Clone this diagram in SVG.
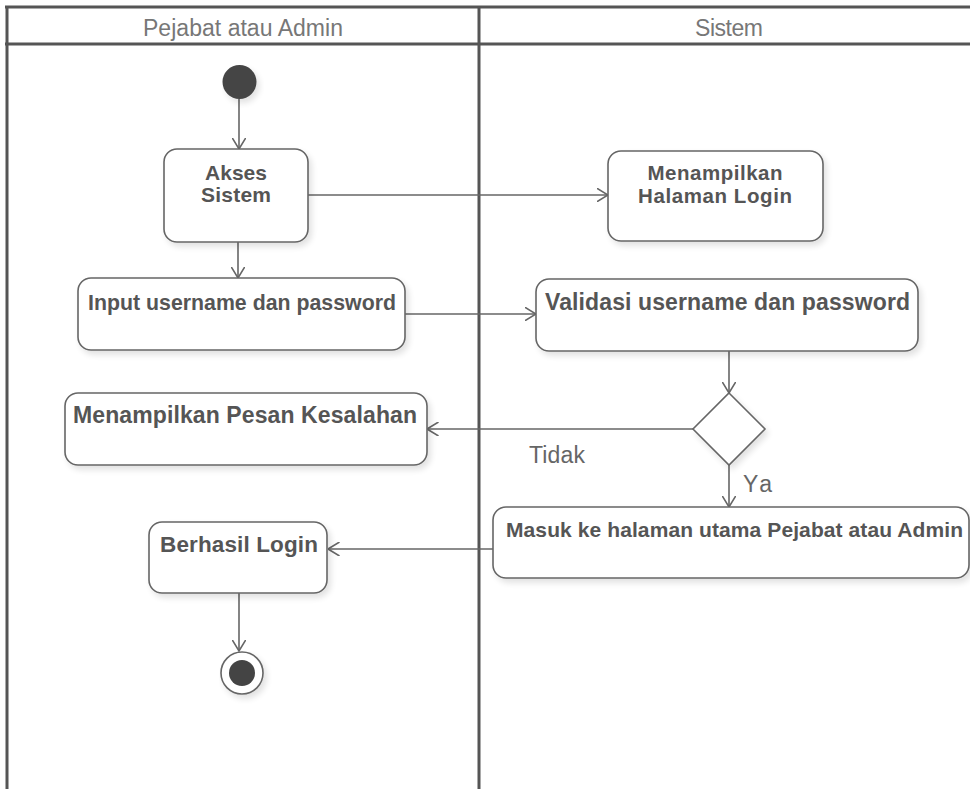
<svg xmlns="http://www.w3.org/2000/svg" width="970" height="789" viewBox="0 0 970 789">
<style>
.lane{stroke:#555;stroke-width:3;fill:none}
.hdr{font-family:"Liberation Sans",Arial,sans-serif;font-size:23px;fill:#777;text-anchor:middle}
.box{fill:#fff;stroke:#666;stroke-width:1.6;filter:url(#sh)}
.lbl{font-family:"Liberation Sans",Arial,sans-serif;font-size:21px;font-weight:bold;fill:#555;text-anchor:middle}
.guard{font-family:"Liberation Sans",Arial,sans-serif;font-size:23px;fill:#666}
.con{stroke:#666;stroke-width:1.6;fill:none;marker-end:url(#arr)}
</style>
<defs>
<marker id="arr" viewBox="0 0 12 14" refX="11.5" refY="7" markerWidth="12" markerHeight="14" markerUnits="userSpaceOnUse" orient="auto">
<path d="M0,0 L11.5,7 L0,14" fill="none" stroke="#666" stroke-width="1.6"/>
</marker>
<filter id="sh" x="-10%" y="-10%" width="130%" height="140%">
<feGaussianBlur in="SourceAlpha" stdDeviation="3"/>
<feOffset dx="3" dy="4" result="b"/>
<feComponentTransfer><feFuncA type="linear" slope="0.12"/></feComponentTransfer>
<feMerge><feMergeNode/><feMergeNode in="SourceGraphic"/></feMerge>
</filter>
</defs>
<rect width="970" height="789" fill="#fff"/>
<g id="swimlanes">
<line class="lane" x1="5" y1="7" x2="970" y2="7"/>
<line class="lane" x1="5" y1="44" x2="970" y2="44"/>
<line class="lane" x1="7" y1="6" x2="7" y2="789"/>
<line class="lane" x1="479" y1="6" x2="479" y2="789"/>
<text class="hdr" x="243" y="36" textLength="200">Pejabat atau Admin</text>
<text class="hdr" x="729" y="36" textLength="68">Sistem</text>
</g>
<g id="connectors">
<line class="con" x1="239" y1="99" x2="239" y2="149"/>
<line class="con" x1="308" y1="195" x2="608" y2="195"/>
<line class="con" x1="238" y1="242" x2="238" y2="278"/>
<line class="con" x1="405" y1="314" x2="536" y2="314"/>
<line class="con" x1="729" y1="351" x2="729" y2="393"/>
<line class="con" x1="693" y1="429" x2="427" y2="429"/>
<line class="con" x1="729" y1="465" x2="729" y2="507"/>
<line class="con" x1="493" y1="549" x2="328" y2="549"/>
<line class="con" x1="239" y1="593" x2="239" y2="651"/>
<text class="guard" x="529" y="463" textLength="56">Tidak</text>
<text class="guard" x="743" y="492" textLength="29">Ya</text>
</g>
<g id="start"><circle cx="239.5" cy="82" r="17" fill="#444" filter="url(#sh)"/></g>
<g id="akses-sistem">
<rect class="box" x="164" y="149" width="144" height="93" rx="13"/>
<text class="lbl" x="236" y="180" textLength="62">Akses</text>
<text class="lbl" x="236" y="202" textLength="70">Sistem</text>
</g>
<g id="menampilkan-login">
<rect class="box" x="608" y="151" width="215" height="90" rx="13"/>
<text class="lbl" x="715" y="180" style="font-size:20.5px" textLength="135">Menampilkan</text>
<text class="lbl" x="715" y="203" style="font-size:20.5px" textLength="154">Halaman Login</text>
</g>
<g id="input">
<rect class="box" x="78" y="278" width="327" height="72" rx="13"/>
<text class="lbl" x="242" y="310" style="font-size:21.3px" textLength="308">Input username dan password</text>
</g>
<g id="validasi">
<rect class="box" x="536" y="279" width="382" height="72" rx="13"/>
<text class="lbl" x="727.5" y="310" style="font-size:23px" textLength="365">Validasi username dan password</text>
</g>
<g id="decision">
<polygon points="729,393 765,429 729,465 693,429" fill="#fff" stroke="#666" stroke-width="1.6" filter="url(#sh)"/>
</g>
<g id="pesan-kesalahan">
<rect class="box" x="65" y="393" width="362" height="72" rx="13"/>
<text class="lbl" x="245" y="423" style="font-size:23px" textLength="344">Menampilkan Pesan Kesalahan</text>
</g>
<g id="masuk">
<rect class="box" x="493" y="507" width="476" height="71" rx="13"/>
<text class="lbl" x="734.5" y="537" style="font-size:21px" textLength="457">Masuk ke halaman utama Pejabat atau Admin</text>
</g>
<g id="berhasil">
<rect class="box" x="149" y="522" width="178" height="71" rx="13"/>
<text class="lbl" x="239" y="552" style="font-size:22.5px" textLength="158">Berhasil Login</text>
</g>
<g id="end">
<circle cx="242" cy="673" r="21" fill="#fff" stroke="#666" stroke-width="1.6" filter="url(#sh)"/>
<circle cx="242" cy="673" r="13" fill="#444"/>
</g>
</svg>
